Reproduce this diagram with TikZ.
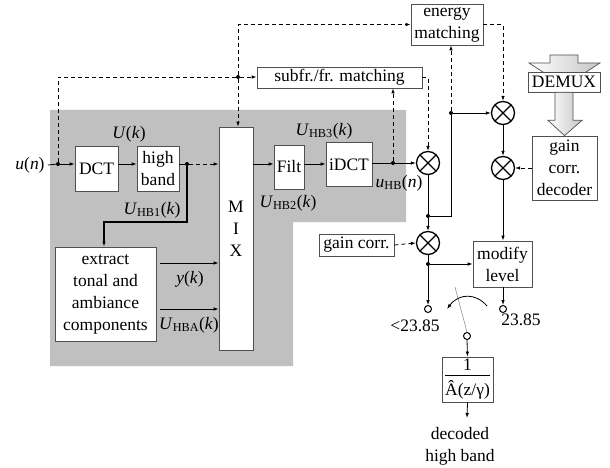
\documentclass[tikz,border=0pt]{standalone}
\usepackage{fontspec}
\setmainfont{Liberation Serif}
\usetikzlibrary{arrows.meta,calc}
\definecolor{graybg}{RGB}{192,192,192}
\definecolor{edge}{RGB}{80,80,80}
\newcommand{\sig}[3]{\textit{#1}\textsubscript{#2}(\textit{#3})}
\begin{document}
\begin{tikzpicture}[x=1pt,y=-1pt,
  every node/.style={font=\fontsize{17.5}{22}\selectfont},
  box/.style={draw=edge, fill=white, line width=0.7pt, inner sep=0pt, align=center},
  lbl/.style={inner sep=0pt, align=center},
  mul/.style={circle, draw, line width=1.3pt, minimum size=23pt, inner sep=0pt, fill=white,
    path picture={\draw[line width=1.3pt] (path picture bounding box.south west) -- (path picture bounding box.north east)
      (path picture bounding box.north west) -- (path picture bounding box.south east);}},
  dot/.style={circle, fill, inner sep=0pt, minimum size=4pt},
  tip/.style={-{Latex[length=5pt,width=3.5pt]}},
  conn/.style={line width=0.8pt},
  dsh/.style={line width=0.8pt, dash pattern=on 4pt off 3pt},
  contact/.style={circle, draw, line width=1pt, minimum size=7pt, inner sep=0pt, fill=white},
  blockarrow/.style={draw=edge, line width=0.7pt, left color=white, right color=gray!45}
]
\useasboundingbox (0,0) rectangle (610,468);
\fill[graybg] (50,110) -- (406,110) -- (406,222) -- (293,222) -- (293,366) -- (50,366) -- cycle;

% block arrow into DEMUX
\path[blockarrow] (550,55) -- (578,55) -- (578,63) -- (600,63) -- (564.5,86) -- (529,63) -- (550,63) -- cycle;

% nodes
\node[lbl] (un) at (30,165) {\textit{u}(\textit{n})};
\node[dot] (j0) at (58,164) {};
\node[box, minimum width=43pt, minimum height=45pt] (dct) at (96.5,168.5) {DCT};
\node[box, minimum width=42pt, minimum height=45pt] (hb) at (158,168.5) {high\\band};
\node[lbl] (uk) at (129,134) {\textit{U}(\textit{k})};
\node[dot] (j1) at (187,164) {};
\node[box, minimum width=34pt, minimum height=223pt] (mix) at (236,238.5) {};
\node[lbl] (mixt) at (236,229) {M\\I\\X};
\node[box, minimum width=30pt, minimum height=44pt] (filt) at (289,167) {Filt};
\node[box, minimum width=46pt, minimum height=44pt] (idct) at (349,164.5) {iDCT};
\node[lbl] (l2) at (288,203) {\sig{U}{HB2}{k}};
\node[lbl] (l3) at (324,131) {\sig{U}{HB3}{k}};
\node[dot] (j2) at (393,163) {};
\node[mul] (m1) at (428,163) {};
\node[lbl] (luhb) at (399,183) {\sig{u}{HB}{n}};
\node[box, minimum width=165pt, minimum height=21pt] (sub) at (339.5,77.5) {subfr./fr. matching};
\node[box, minimum width=72pt, minimum height=41pt] (en) at (447,24.5) {energy\\matching};
\node[dot] (jt) at (238,77) {};
\node[box, minimum width=101pt, minimum height=94pt] (ext) at (105.5,294) {extract\\tonal and\\ambiance\\components};
\node[lbl] (ly) at (190,279) {\textit{y}(\textit{k})};
\node[lbl] (lhba) at (189,325) {\sig{U}{HBA}{k}};
\node[lbl] (lhb1) at (152,210) {\sig{U}{HB1}{k}};
\node[dot] (j3) at (428,216) {};
\node[dot] (j4) at (451,113) {};
\node[mul] (m2) at (503,113) {};
\node[mul] (m3) at (503,168) {};
\node[box, minimum width=65pt, minimum height=64pt] (gcd) at (564.5,168) {gain\\corr.\\decoder};
\node[box, minimum width=72pt, minimum height=20pt] (demux) at (564,82) {DEMUX};
\node[box, minimum width=59pt, minimum height=46pt] (mod) at (502.5,264) {modify\\level};
\node[box, minimum width=75pt, minimum height=22pt] (gc) at (356.5,245) {gain corr.};
\node[mul] (m4) at (428,243) {};
\node[dot] (j5) at (428,264) {};
\node[contact] (c1) at (428,309) {};
\node[contact] (c2) at (503,309) {};
\node[contact] (c3) at (467,336) {};
\node[lbl] (llt) at (415,326) {<23.85};
\node[lbl] (lge) at (521,320) {23.85};
\node[box, minimum width=51pt, minimum height=45pt] (syn) at (467.5,379.5) {1\\[-17pt]\rule{45pt}{0.8pt}\\[-2pt]Â(z/γ)};
\coordinate (out) at (467,418);
\node[lbl] (dec) at (460,446) {decoded\\high band};

% block arrow DEMUX -> gain corr. decoder
\path[blockarrow] ($(demux.south)+(-9,0)$) -- ($(demux.south)+(9,0)$) -- ($(demux.south)+(9,28)$) -- ($(demux.south)+(18,28)$)
  -- (gcd.north) -- ($(demux.south)+(-16,28)$) -- ($(demux.south)+(-9,28)$) -- cycle;

% main signal path
\draw[conn] ([xshift=3pt]un.east) -- (j0);
\draw[conn,tip] (j0) -- (j0 -| dct.west);
\draw[conn,tip] (dct.east |- j0) -- (hb.west |- j0);
\draw[conn] (hb.east |- j1) -- (j1);
\draw[dsh,tip] (j1) -- (j1 -| mix.west);
\coordinate (k1) at (187,222);
\coordinate (k2) at (104,222);
\draw[line width=1.5pt,tip] (j1) -- (k1) -- (k2) -- (k2 |- ext.north);
\coordinate (ya) at (160,263);
\coordinate (yb) at (160,309);
\draw[conn,tip] (ya) -- (ya -| mix.west);
\draw[conn,tip] (yb) -- (yb -| mix.west);
\draw[conn,tip] (mix.east |- j0) -- (filt.west |- j0);
\draw[conn,tip] (filt.east |- j0) -- (idct.west |- j0);
\draw[conn] (idct.east |- j2) -- (j2);
\draw[conn,tip] (j2) -- (m1.west);

% dashed control paths
\draw[dsh] (j0) -- (j0 |- jt) -- (jt);
\draw[dsh,tip] (jt) -- (jt -| sub.west);
\draw[dsh,tip] (jt) -- (jt |- en.west) -- (en.west);
\draw[dsh,tip] (jt) -- (jt |- mix.north);
\draw[dsh,tip] (j2) -- (j2 |- sub.south);
\draw[dsh,tip] (sub.east) -- (sub.east -| m1) -- (m1.north);
\draw[dsh,tip] (j4) -- (j4 |- en.south);
\draw[dsh,tip] (en.east) -- (en.east -| m2) -- (m2.north);
\draw[dsh,tip] (gcd.west) -- (m3.east);
\draw[dsh,tip] (gc.east) -- (m4.west);

% right part
\draw[conn] (m1.south) -- (j3);
\draw[conn,tip] (j3) -- (m4.north);
\draw[conn] (j3) -- (j3 -| j4) -- (j4);
\draw[conn,tip] (j4) -- (m2.west);
\draw[conn,tip] (m2.south) -- (m3.north);
\draw[conn,tip] (m3.south) -- (m3.south |- mod.north);
\draw[conn] (m4.south) -- (j5);
\draw[conn,tip] (j5) -- (j5 -| mod.west);
\draw[conn,tip] (j5) -- (c1.north);
\draw[conn,tip] (mod.south -| c2) -- (c2.north);

% switch
\coordinate (sw) at (455,287);
\draw[gray, line width=0.5pt] (sw) -- (c3.north);
\coordinate (ca) at (487,306);
\coordinate (cb) at (447,309);
\draw[conn,tip] (ca) .. controls (476,293) and (459,293) .. (cb);
\draw[conn,tip] (c3.south) -- (syn.north);
\draw[conn,tip] (syn.south) -- (out);
\end{tikzpicture}
\end{document}
